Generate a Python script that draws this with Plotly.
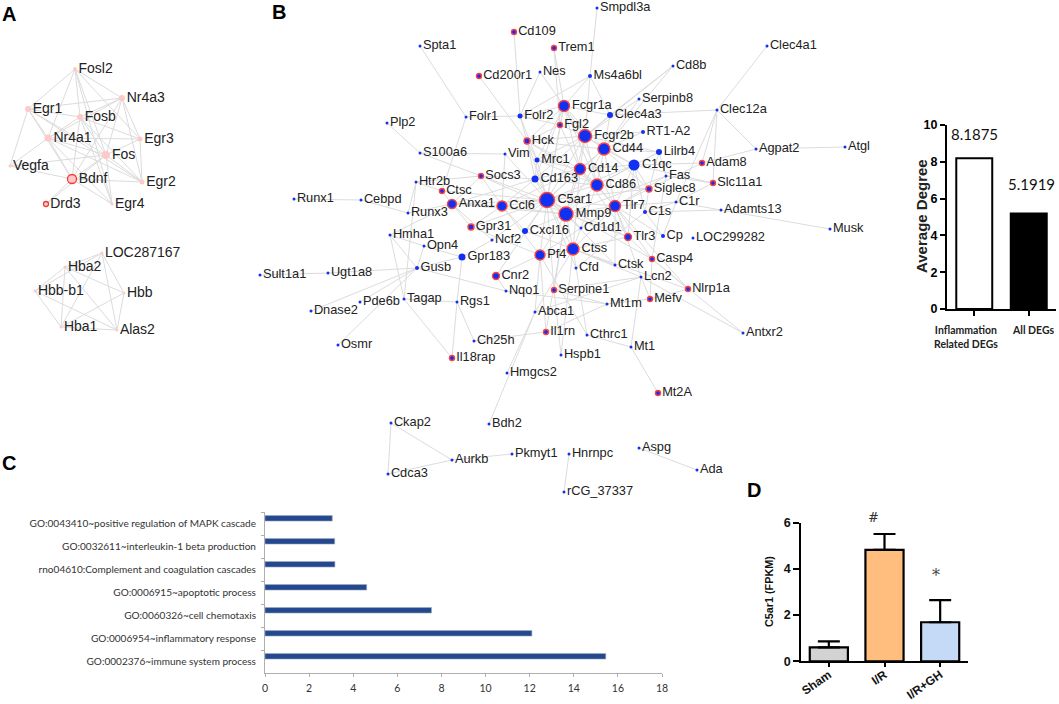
import plotly.graph_objects as go

# ---------- Panel A network ----------
a_names = ["Fosl2","Nr4a3","Egr1","Fosb","Egr3","Nr4a1","Fos","Vegfa","Bdnf","Egr2","Egr4","Drd3",
           "LOC287167","Hba2","Hbb-b1","Hbb","Hba1","Alas2"]
a_x = [75,122,28,80,140,48,106,10,72,142,112,46,102,65,35,124,61,117]
a_y = [69,98,109,117,139,138,155,166,179,182,204,204,253,267,291,293,327,330]
a_deg = [4,6,6,6,5,7,8,3,9,5,3,5,3,3,3,3,3,3]
a_ring = ["Bdnf","Drd3"]
a_edges = [("Fosl2","Egr1"),("Fosl2","Nr4a3"),("Fosl2","Fosb"),("Fosl2","Fos"),("Fosl2","Nr4a1"),("Fosl2","Egr3"),
 ("Fosl2","Egr4"),("Egr1","Nr4a3"),("Egr1","Fosb"),("Egr1","Nr4a1"),("Egr1","Fos"),("Egr1","Vegfa"),("Egr1","Bdnf"),
 ("Egr1","Egr2"),("Nr4a3","Fosb"),("Nr4a3","Egr3"),("Nr4a3","Fos"),("Nr4a3","Egr2"),("Nr4a3","Bdnf"),("Nr4a3","Nr4a1"),
 ("Fosb","Egr3"),("Fosb","Nr4a1"),("Fosb","Fos"),("Fosb","Egr2"),("Fosb","Bdnf"),("Fosb","Egr4"),("Egr3","Nr4a1"),
 ("Egr3","Fos"),("Egr3","Egr2"),("Nr4a1","Fos"),("Nr4a1","Vegfa"),("Nr4a1","Bdnf"),("Nr4a1","Egr2"),("Nr4a1","Egr4"),
 ("Fos","Vegfa"),("Fos","Bdnf"),("Fos","Egr2"),("Fos","Egr4"),("Vegfa","Bdnf"),("Bdnf","Egr2"),("Bdnf","Egr4"),
 ("Bdnf","Drd3"),("Fos","Drd3"),
 ("LOC287167","Hba2"),("LOC287167","Hbb-b1"),("LOC287167","Hba1"),("LOC287167","Alas2"),("LOC287167","Hbb"),
 ("Hba2","Hbb-b1"),("Hba2","Hbb"),("Hba2","Hba1"),("Hba2","Alas2"),("Hbb-b1","Hba1"),("Hbb-b1","Alas2"),
 ("Hbb","Hba1"),("Hbb","Alas2"),("Hba1","Alas2")]

# ---------- Panel B network ----------
b_names = ["Spta1","Cd109","Trem1","Cd200r1","Nes","Smpdl3a","Ms4a6bl","Cd8b","Clec4a1","Serpinb8","Clec12a","Fcgr1a",
 "Clec4a3","Fgl2","RT1-A2","Fcgr2b","Cd44","Lilrb4","C1qc","Adam8","Agpat2","Atgl","Fas","Slc11a1","Cd14","Cd86",
 "Siglec8","C5ar1","Tlr7","Mmp9","C1s","C1r","Adamts13","Musk","Cd1d1","Tlr3","Cp","LOC299282","Plp2","Folr1","Folr2",
 "Hck","S100a6","Vim","Mrc1","Socs3","Cd163","Htr2b","Ctsc","Runx1","Cebpd","Anxa1","Ccl6","Runx3","Gpr31","Cxcl16",
 "Hmha1","Ncf2","Opn4","Gpr183","Pf4","Ugt1a8","Sult1a1","Gusb","Cnr2","Nqo1","Serpine1","Tagap","Rgs1","Pde6b",
 "Dnase2","Abca1","Osmr","Ch25h","Il1rn","Il18rap","Hmgcs2","Ctss","Cfd","Ctsk","Casp4","Lcn2","Nlrp1a","Mefv","Mt1m",
 "Cthrc1","Mt1","Antxr2","Hspb1","Mt2A","Ckap2","Bdh2","Cdca3","Aurkb","Pkmyt1","Hnrnpc","rCG_37337","Aspg","Ada"]
b_x = [420,514,554,479,540,597,590,673,767,639,717,564,610,560,643,585,604,659,634,702,756,845,666,713,580,597,649,547,
 615,566,645,676,721,830,581,628,663,693,387,466,520,527,420,505,537,481,535,416,442,294,361,452,502,408,471,525,390,
 492,424,462,540,328,260,417,496,506,554,404,457,360,311,535,338,474,546,452,507,573,576,615,652,641,688,650,607,587,
 631,743,561,658,391,489,388,452,512,569,564,639,697]
b_y = [46,32,48,76,72,8,76,66,46,99,110,106,115,125,132,136,149,152,165,163,149,147,176,183,169,185,189,200,206,214,212,
 202,210,229,228,237,236,238,123,117,116,141,153,154,160,176,179,182,191,199,200,204,206,213,227,231,235,240,246,257,
 255,273,275,268,276,291,290,299,302,302,311,312,345,341,332,358,373,249,268,265,259,277,289,299,304,335,347,333,355,
 393,423,424,474,460,454,454,492,448,470]
b_deg = [3,5,5,5,3,3,4,3,3,3,3,11,6,5,4,13,12,6,11,5,3,3,3,5,11,12,6,15,11,14,4,3,3,3,3,7,4,3,3,3,5,6,3,3,5,5,7,3,5,3,
 3,9,10,3,6,6,3,3,3,7,10,3,3,4,7,3,5,3,3,3,3,3,3,3,5,5,3,12,3,3,5,3,5,5,3,3,3,3,3,5,3,3,3,3,3,3,3,3,3]
b_ring = ["Cd109","Trem1","Cd200r1","Fcgr1a","Fgl2","Fcgr2b","Cd44","Adam8","Slc11a1","Cd14","Cd86","Siglec8","C5ar1",
 "Tlr7","Mmp9","Tlr3","Hck","Socs3","Ctsc","Anxa1","Ccl6","Gpr31","Pf4","Cnr2","Serpine1","Il1rn","Il18rap","Ctss",
 "Casp4","Nlrp1a","Mefv","Mt2A"]
b_edges = [("Spta1","Folr1"),("Folr1","Ctsc"),("Folr1","Folr2"),("Plp2","S100a6"),("S100a6","Vim"),("S100a6","Socs3"),
 ("Runx1","Cebpd"),("Cebpd","Runx3"),("Htr2b","Socs3"),("Htr2b","Ctsc"),("Htr2b","Runx3"),("Htr2b","Tagap"),
 ("Runx3","Anxa1"),("Ctsc","Anxa1"),("Ctsc","C5ar1"),("Cd109","Folr2"),("Cd200r1","Hck"),("Nes","Folr2"),("Nes","Fcgr1a"),
 ("Trem1","Fcgr1a"),("Trem1","Fgl2"),("Smpdl3a","Ms4a6bl"),("Ms4a6bl","Fcgr1a"),("Ms4a6bl","Folr2"),("Ms4a6bl","Fcgr2b"),
 ("Ms4a6bl","Clec4a3"),("Cd8b","Clec4a3"),("Cd8b","Cd44"),("Cd8b","Fcgr2b"),("Clec4a1","Clec12a"),("Clec12a","Clec4a3"),
 ("Clec12a","Agpat2"),("Clec12a","Adam8"),("Clec12a","Slc11a1"),("Clec12a","C1r"),("Agpat2","Atgl"),("Agpat2","Adam8"),
 ("Adam8","Siglec8"),("Adam8","C1qc"),("Slc11a1","Fas"),("Slc11a1","C1qc"),("Slc11a1","C1r"),("C1r","Adamts13"),
 ("C1s","Adamts13"),("Adamts13","Musk"),("C1r","C1s"),("C1r","Cp"),("C1r","Tlr7"),("C1qc","C1s"),("Aspg","Ada"),
 ("Hnrnpc","rCG_37337"),("Ckap2","Cdca3"),("Ckap2","Aurkb"),("Cdca3","Aurkb"),("Aurkb","Pkmyt1"),("Abca1","Bdh2"),
 ("Hmgcs2","Abca1"),("Ch25h","Il1rn"),("Ch25h","Rgs1"),("Rgs1","Tagap"),("Tagap","Il18rap"),("Il18rap","Rgs1"),
 ("Tagap","Hmha1"),("Gusb","Ugt1a8"),("Ugt1a8","Sult1a1"),("Gusb","Nqo1"),("Gusb","Dnase2"),("Gusb","Osmr"),("Pde6b","Gusb"),
 ("Opn4","Gusb"),("Hmha1","Gusb"),("Hmha1","Opn4"),("Gusb","Gpr183"),("Rgs1","Gpr183"),("Hmha1","Anxa1"),("Opn4","Gpr183"),
 ("Ncf2","Gpr183"),("Ncf2","Anxa1"),("Ncf2","C5ar1"),("Mt1","Cthrc1"),("Mt1","Mt2A"),("Mt1","Lcn2"),("Cthrc1","Ctss"),
 ("Cthrc1","Pf4"),("Antxr2","Casp4"),("Antxr2","Lcn2"),("Nlrp1a","Mefv"),("Nlrp1a","Casp4"),("Nlrp1a","Tlr7"),("Nlrp1a","Ctss"),
 ("Mefv","Lcn2"),("Mefv","Casp4"),("Il1rn","Mt1m"),("Mt1m","Serpine1"),("Mt1m","Mefv"),("Hspb1","Serpine1"),("Hspb1","Ctss"),
 ("Lcn2","Serpine1"),("Lcn2","Ctss"),("Lcn2","Tlr7"),("Il1rn","Pf4"),("Il1rn","Mmp9"),("Abca1","Pf4"),("Abca1","Ctss"),
 ("Abca1","Lcn2"),("Serpine1","Mmp9"),("Serpine1","C5ar1"),("Cnr2","Pf4"),("Cnr2","C5ar1"),("Cnr2","Nqo1"),("Nqo1","Mt1m"),
 ("Gpr31","C5ar1"),("Gpr31","Anxa1"),("Gpr31","Ccl6"),("Gpr31","Pf4"),("Cxcl16","C5ar1"),("Cxcl16","Mmp9"),("Cxcl16","Ccl6"),
 ("Cxcl16","Ctss"),("Pf4","Ctss"),("Pf4","C5ar1"),("Pf4","Mmp9"),("Pf4","Ccl6"),("Pf4","Tlr7"),("Ctss","C5ar1"),("Ctss","Mmp9"),
 ("Ctss","Tlr7"),("Ctss","Cd14"),("Ctss","Cd86"),("Ctss","Tlr3"),("Ctss","Ctsk"),("Cfd","C5ar1"),("Cfd","C1s"),("Ctsk","Mmp9"),
 ("Ctsk","Tlr7"),("Tlr3","Tlr7"),("Tlr3","Casp4"),("Tlr3","Cd14"),("Tlr3","C5ar1"),("Tlr3","Mmp9"),("Cp","Tlr7"),("Cp","C1s"),
 ("Casp4","Tlr7"),("Casp4","C5ar1"),("Cd1d1","C5ar1"),("Cd1d1","Mmp9"),("Cd1d1","Tlr7"),("C5ar1","Mmp9"),("C5ar1","Tlr7"),
 ("C5ar1","Cd86"),("C5ar1","Cd14"),("C5ar1","Cd44"),("C5ar1","Fcgr2b"),("C5ar1","Fcgr1a"),("C5ar1","Cd163"),("C5ar1","Mrc1"),
 ("C5ar1","Hck"),("C5ar1","Anxa1"),("C5ar1","Ccl6"),("C5ar1","Socs3"),("C5ar1","Fgl2"),("C5ar1","C1qc"),("C5ar1","Vim"),
 ("C5ar1","Siglec8"),("Mmp9","Cd86"),("Mmp9","Cd14"),("Mmp9","Cd44"),("Mmp9","Tlr7"),("Mmp9","Anxa1"),("Mmp9","Ccl6"),
 ("Mmp9","Cd163"),("Mmp9","Fcgr2b"),("Mmp9","Socs3"),("Mmp9","Fas"),("Tlr7","Cd86"),("Tlr7","Cd14"),("Tlr7","Cd44"),
 ("Tlr7","Fcgr1a"),("Tlr7","Siglec8"),("Tlr7","C1qc"),("Cd86","Cd14"),("Cd86","Cd44"),("Cd86","Fcgr2b"),("Cd86","Fcgr1a"),
 ("Cd86","Cd163"),("Cd86","Mrc1"),("Cd86","C1qc"),("Cd86","Siglec8"),("Cd86","Hck"),("Cd86","Lilrb4"),("Cd14","Cd44"),
 ("Cd14","Fcgr2b"),("Cd14","Fcgr1a"),("Cd14","Cd163"),("Cd14","Mrc1"),("Cd14","Hck"),("Cd14","Ccl6"),("Cd14","Fgl2"),
 ("Cd14","C1qc"),("Cd44","Fcgr2b"),("Cd44","Fcgr1a"),("Cd44","Lilrb4"),("Cd44","C1qc"),("Cd44","RT1-A2"),("Cd44","Clec4a3"),
 ("Cd44","Siglec8"),("Cd44","Hck"),("Fcgr2b","Fcgr1a"),("Fcgr2b","Clec4a3"),("Fcgr2b","Fgl2"),("Fcgr2b","Hck"),("Fcgr2b","Mrc1"),
 ("Fcgr2b","Cd163"),("Fcgr2b","Lilrb4"),("Fcgr2b","C1qc"),("Fcgr2b","RT1-A2"),("Fcgr1a","Clec4a3"),("Fcgr1a","Fgl2"),
 ("Fcgr1a","Hck"),("Fcgr1a","Folr2"),("Fcgr1a","Mrc1"),("Fcgr1a","Cd163"),("Fgl2","Hck"),("Fgl2","Folr2"),("Hck","Mrc1"),
 ("Hck","Cd163"),("Hck","Folr2"),("Mrc1","Cd163"),("Mrc1","Folr2"),("Cd163","Ccl6"),("Cd163","Anxa1"),("Anxa1","Ccl6"),
 ("Anxa1","Socs3"),("Ccl6","Socs3"),("Ccl6","Vim"),("Socs3","Cd163"),("C1qc","Lilrb4"),("C1qc","Siglec8"),("C1qc","Tlr3"),
 ("Lilrb4","Siglec8"),("Lilrb4","Fas"),("Siglec8","C1s"),("Fas","Tlr7"),("Fas","Casp4"),("Serpinb8","Fcgr2b"),("Serpinb8","Cd44")]

# ---------- Average degree bars ----------
deg_cats = ["Inflammation<br>Related DEGs","All DEGs"]
deg_vals = [8.1875,5.1919]
deg_fill = ["white","black"]

# ---------- GO bars ----------
go_terms = ["GO:0002376~immune system process","GO:0006954~inflammatory response","GO:0060326~cell chemotaxis",
            "GO:0006915~apoptotic process","rno04610:Complement and coagulation cascades",
            "GO:0032611~interleukin-1 beta production","GO:0043410~positive regulation of MAPK cascade"]
go_vals = [15.45,12.1,7.55,4.61,3.17,3.16,3.05]

# ---------- C5ar1 bars ----------
d_cats = ["Sham","I/R","I/R+GH"]
d_vals = [0.6,4.82,1.69]
d_err = [0.26,0.69,0.96]
d_fill = ["#D3D3D3","#FFBE7D","#C5DAF6"]

W, H = 1059, 704
def dom_x(a, b): return [a / W, b / W]
def dom_y(top, bottom): return [1 - bottom / H, 1 - top / H]

EDGE = "#dcdcdc"
SANS = "Liberation Sans"
CAL = "Lato"
fig = go.Figure()

def add_network(names, xs, ys, deg, ring, edges, fill, ringcol, txt, ringw):
    pos = {n: (x, y) for n, x, y in zip(names, xs, ys)}
    ex, ey = [], []
    for p, q in edges:
        ex += [pos[p][0], pos[q][0], None]
        ey += [pos[p][1], pos[q][1], None]
    fig.add_trace(go.Scatter(x=ex, y=ey, mode="lines", line=dict(color=EDGE, width=1), hoverinfo="skip", showlegend=False))
    fig.add_trace(go.Scatter(x=xs, y=ys, mode="markers+text", text=names, textposition="middle right",
        textfont=dict(family=SANS, size=txt, color="#222222"),
        marker=dict(size=deg, color=fill, opacity=1,
                    line=dict(color=[ringcol if n in ring else fill for n in names],
                              width=[ringw if n in ring else 0 for n in names])),
        cliponaxis=False, showlegend=False, hoverinfo="text"))

add_network(a_names, a_x, a_y, a_deg, a_ring, a_edges, "#FFC9C9", "#F23A3A", 14, 1.3)
add_network(b_names, b_x, b_y, b_deg, b_ring, b_edges, "#1230F2", "#FF4040", 12.8, 1.4)

# Average degree
fig.add_trace(go.Bar(x=deg_cats, y=deg_vals, width=0.66, xaxis="x2", yaxis="y2", showlegend=False,
                     marker=dict(color=deg_fill, line=dict(color="black", width=2))))
# GO
fig.add_trace(go.Bar(y=go_terms, x=go_vals, orientation="h", width=0.24, offset=0.105, xaxis="x3", yaxis="y3",
                     showlegend=False, marker=dict(color="#24488F", line=dict(color="#9FA9BC", width=0.6))))
# C5ar1
fig.add_trace(go.Bar(x=d_cats, y=d_vals, width=0.685, xaxis="x4", yaxis="y4", showlegend=False,
                     marker=dict(color=d_fill, line=dict(color="black", width=2.2)),
                     error_y=dict(type="data", symmetric=False, array=d_err, arrayminus=[0, 0, 0],
                                  color="black", thickness=2.2, width=11)))

annots = []
for text, x, y in [("A", 9, 14), ("B", 279, 12), ("C", 9, 463), ("D", 754, 490)]:
    annots.append(dict(text=f"<b>{text}</b>", x=x, y=y, xref="x", yref="y", showarrow=False,
                       font=dict(family=SANS, size=20, color="black")))
for c, v, dx, dy in zip(deg_cats, deg_vals, [0, 3], [24, 29]):
    annots.append(dict(text=f"{v:.4f}", x=c, y=v, xref="x2", yref="y2", xshift=dx, yshift=dy, showarrow=False,
                       font=dict(family=CAL, size=15, color="#111111")))
for c, dx, y in zip(deg_cats, [-8, 4], [337, 330]):
    annots.append(dict(text=f"<b>{c}</b>", x=c, y=y, xref="x2", yref="y", xshift=dx, showarrow=False,
                       font=dict(family=CAL, size=10.5, color="#222222")))
annots.append(dict(text="<b>Average Degree</b>", x=921, y=216, xref="x", yref="y", textangle=-90, showarrow=False,
                   font=dict(family=SANS, size=15, color="#222222")))
annots.append(dict(text="<b>C5ar1 (FPKM)</b>", x=769, y=592, xref="x", yref="y", textangle=-90, showarrow=False,
                   font=dict(family=SANS, size=10.8, color="#111111")))
annots.append(dict(text="#", x=873, y=517, xref="x", yref="y", showarrow=False, font=dict(family="DejaVu Serif", size=13, color="#333333")))
annots.append(dict(text="*", x=936, y=575, xref="x", yref="y", showarrow=False, font=dict(family="DejaVu Serif", size=16, color="#444444")))

fig.update_layout(
    width=W, height=H, margin=dict(l=0, r=0, t=0, b=0, pad=0, autoexpand=False), autosize=False,
    paper_bgcolor="white", plot_bgcolor="rgba(0,0,0,0)", showlegend=False, annotations=annots,
    xaxis=dict(domain=[0, 1], range=[0, W], visible=False, fixedrange=True),
    yaxis=dict(domain=[0, 1], range=[H, 0], visible=False, fixedrange=True),
    xaxis2=dict(domain=dom_x(947, 1056), anchor="y2", range=[-0.5, 1.5], type="category", showgrid=False,
                showline=True, linecolor="black", linewidth=2, ticks="outside", ticklen=5, tickwidth=1.5, tickcolor="black",
                showticklabels=False),
    yaxis2=dict(domain=dom_y(125, 309), anchor="x2", range=[0, 10], dtick=2, showgrid=False, zeroline=False,
                showline=True, linecolor="black", linewidth=2, ticks="outside", ticklen=5, tickwidth=2, tickcolor="black",
                tickfont=dict(family=SANS, size=12.5, color="black", weight="bold")),
    xaxis3=dict(domain=dom_x(265, 662), anchor="y3", range=[0, 18], dtick=2, showgrid=False, zeroline=False,
                showline=True, linecolor="#AFAFAF", linewidth=1, ticks="outside", ticklen=3, tickcolor="#AFAFAF",
                ticklabelstandoff=2, tickfont=dict(family=CAL, size=10.5, color="#333333")),
    yaxis3=dict(domain=dom_y(512, 673), anchor="x3", type="category", categoryorder="array", categoryarray=go_terms,
                range=[-0.5, 6.5], tickson="boundaries", showgrid=False, zeroline=False,
                showline=True, linecolor="#AFAFAF", linewidth=1, ticks="outside", ticklen=3, tickcolor="#AFAFAF",
                ticklabelstandoff=6, tickfont=dict(family=CAL, size=10.05, color="#333333")),
    xaxis4=dict(domain=dom_x(801, 968), anchor="y4", range=[-0.5, 2.5], type="category", showgrid=False,
                showline=True, linecolor="black", linewidth=1.8, ticks="outside", ticklen=4, tickwidth=1.5, tickcolor="black",
                tickangle=-35, ticklabelstandoff=-4, tickfont=dict(family=SANS, size=12, color="#111111", weight="bold")),
    yaxis4=dict(domain=dom_y(522.7, 661.3), anchor="x4", range=[0, 6], dtick=2, showgrid=False, zeroline=False,
                showline=True, linecolor="black", linewidth=1.8, ticks="outside", ticklen=6, tickwidth=1.5, tickcolor="black",
                tickfont=dict(family=SANS, size=12.5, color="#111111", weight="bold")),
)
fig.write_html("out.html", config=dict(displayModeBar=False),
               post_script="document.body.style.margin='0';document.documentElement.style.overflow='hidden';")
